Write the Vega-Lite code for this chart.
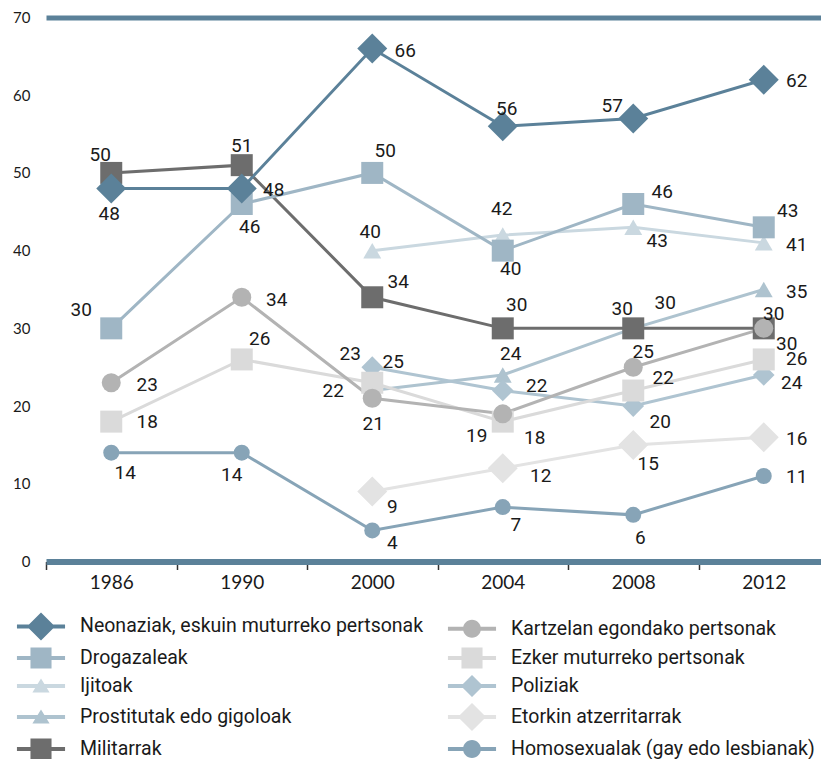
{
  "$schema": "https://vega.github.io/schema/vega-lite/v6.json",
  "width": 775,
  "height": 544,
  "autosize": {"type": "none"},
  "padding": {"left": 46, "top": 17.5, "right": 0, "bottom": 197.5},
  "background": "white",
  "config": {"view": {"stroke": null}, "font": "Roboto"},
  "data": {
    "values": [
      {"series": "Homosexualak (gay edo lesbianak)", "year": "1986", "value": 14},
      {"series": "Homosexualak (gay edo lesbianak)", "year": "1990", "value": 14},
      {"series": "Homosexualak (gay edo lesbianak)", "year": "2000", "value": 4},
      {"series": "Homosexualak (gay edo lesbianak)", "year": "2004", "value": 7},
      {"series": "Homosexualak (gay edo lesbianak)", "year": "2008", "value": 6},
      {"series": "Homosexualak (gay edo lesbianak)", "year": "2012", "value": 11},
      {"series": "Etorkin atzerritarrak", "year": "2000", "value": 9},
      {"series": "Etorkin atzerritarrak", "year": "2004", "value": 12},
      {"series": "Etorkin atzerritarrak", "year": "2008", "value": 15},
      {"series": "Etorkin atzerritarrak", "year": "2012", "value": 16},
      {"series": "Ijitoak", "year": "2000", "value": 40},
      {"series": "Ijitoak", "year": "2004", "value": 42},
      {"series": "Ijitoak", "year": "2008", "value": 43},
      {"series": "Ijitoak", "year": "2012", "value": 41},
      {"series": "Prostitutak edo gigoloak", "year": "2000", "value": 22},
      {"series": "Prostitutak edo gigoloak", "year": "2004", "value": 24},
      {"series": "Prostitutak edo gigoloak", "year": "2008", "value": 30},
      {"series": "Prostitutak edo gigoloak", "year": "2012", "value": 35},
      {"series": "Poliziak", "year": "2000", "value": 25},
      {"series": "Poliziak", "year": "2004", "value": 22},
      {"series": "Poliziak", "year": "2008", "value": 20},
      {"series": "Poliziak", "year": "2012", "value": 24},
      {"series": "Ezker muturreko pertsonak", "year": "1986", "value": 18},
      {"series": "Ezker muturreko pertsonak", "year": "1990", "value": 26},
      {"series": "Ezker muturreko pertsonak", "year": "2000", "value": 23},
      {"series": "Ezker muturreko pertsonak", "year": "2004", "value": 18},
      {"series": "Ezker muturreko pertsonak", "year": "2008", "value": 22},
      {"series": "Ezker muturreko pertsonak", "year": "2012", "value": 26},
      {"series": "Militarrak", "year": "1986", "value": 50},
      {"series": "Militarrak", "year": "1990", "value": 51},
      {"series": "Militarrak", "year": "2000", "value": 34},
      {"series": "Militarrak", "year": "2004", "value": 30},
      {"series": "Militarrak", "year": "2008", "value": 30},
      {"series": "Militarrak", "year": "2012", "value": 30},
      {"series": "Kartzelan egondako pertsonak", "year": "1986", "value": 23},
      {"series": "Kartzelan egondako pertsonak", "year": "1990", "value": 34},
      {"series": "Kartzelan egondako pertsonak", "year": "2000", "value": 21},
      {"series": "Kartzelan egondako pertsonak", "year": "2004", "value": 19},
      {"series": "Kartzelan egondako pertsonak", "year": "2008", "value": 25},
      {"series": "Kartzelan egondako pertsonak", "year": "2012", "value": 30},
      {"series": "Drogazaleak", "year": "1986", "value": 30},
      {"series": "Drogazaleak", "year": "1990", "value": 46},
      {"series": "Drogazaleak", "year": "2000", "value": 50},
      {"series": "Drogazaleak", "year": "2004", "value": 40},
      {"series": "Drogazaleak", "year": "2008", "value": 46},
      {"series": "Drogazaleak", "year": "2012", "value": 43},
      {"series": "Neonaziak, eskuin muturreko pertsonak", "year": "1986", "value": 48},
      {"series": "Neonaziak, eskuin muturreko pertsonak", "year": "1990", "value": 48},
      {"series": "Neonaziak, eskuin muturreko pertsonak", "year": "2000", "value": 66},
      {"series": "Neonaziak, eskuin muturreko pertsonak", "year": "2004", "value": 56},
      {"series": "Neonaziak, eskuin muturreko pertsonak", "year": "2008", "value": 57},
      {"series": "Neonaziak, eskuin muturreko pertsonak", "year": "2012", "value": 62}
    ]
  },
  "encoding": {
    "x": {
      "field": "year",
      "type": "ordinal",
      "scale": {"type": "band", "range": [0, 783], "paddingInner": 0, "paddingOuter": 0},
      "axis": {
        "title": null,
        "labelAngle": 0,
        "domainColor": "#5b8199",
        "domainWidth": 6,
        "tickBand": "extent",
        "tickColor": "#333333",
        "tickWidth": 1.5,
        "tickSize": 8,
        "labelPadding": 4,
        "labelFont": "Lato",
        "labelFontSize": 19,
        "labelColor": "#1a1a1a",
        "grid": false
      }
    },
    "y": {
      "field": "value",
      "type": "quantitative",
      "scale": {"domain": [0, 70], "nice": false},
      "axis": {
        "title": null,
        "values": [0, 10, 20, 30, 40, 50, 60, 70],
        "domain": false,
        "ticks": false,
        "labelPadding": 16,
        "labelFont": "Lato",
        "labelFontSize": 15,
        "labelColor": "#1a1a1a",
        "grid": true,
        "gridColor": "#5b8199",
        "gridWidth": {"condition": {"test": "datum.value == 70", "value": 5}, "value": 0}
      }
    },
    "color": {
      "field": "series",
      "type": "nominal",
      "scale": {
        "domain": ["Neonaziak, eskuin muturreko pertsonak", "Drogazaleak", "Ijitoak", "Prostitutak edo gigoloak", "Militarrak", "Kartzelan egondako pertsonak", "Ezker muturreko pertsonak", "Poliziak", "Etorkin atzerritarrak", "Homosexualak (gay edo lesbianak)"],
        "range": ["#5b8199", "#9fb6c5", "#cad8e0", "#aec3cf", "#6d6d6d", "#b3b3b3", "#dadada", "#afc4d1", "#e3e3e3", "#87a4b7"]
      },
      "legend": {
        "title": null,
        "orient": "none",
        "legendX": -18,
        "legendY": 595.5,
        "columns": 2,
        "padding": 0,
        "symbolSize": 676,
        "labelFont": "Roboto",
        "labelFontSize": 19.5,
        "labelColor": "#1a1a1a",
        "labelOffset": 26,
        "labelLimit": 600,
        "rowPadding": 4,
        "columnPadding": 23,
        "encode": {
          "symbols": {
            "update": {
              "shape": {"signal": "['M-1.85,-0.15H1.85V0.15H-1.85ZM0,-1.08L1.08,0L0,1.08L-1.08,0Z','M-1.85,-0.15H1.85V0.15H-1.85ZM-0.81,-0.81H0.81V0.81H-0.81Z','M-1.85,-0.15H1.85V0.15H-1.85ZM0,-0.58L0.66,0.5H-0.66Z','M-1.85,-0.15H1.85V0.15H-1.85ZM0,-0.58L0.66,0.5H-0.66Z','M-1.85,-0.15H1.85V0.15H-1.85ZM-0.81,-0.81H0.81V0.81H-0.81Z','M-1.85,-0.15H1.85V0.15H-1.85ZM-0.69,0A0.69,0.69,0,1,1,0.69,0A0.69,0.69,0,1,1,-0.69,0Z','M-1.85,-0.15H1.85V0.15H-1.85ZM-0.81,-0.81H0.81V0.81H-0.81Z','M-1.85,-0.15H1.85V0.15H-1.85ZM0,-0.85L0.85,0L0,0.85L-0.85,0Z','M-1.85,-0.15H1.85V0.15H-1.85ZM0,-1.08L1.08,0L0,1.08L-1.08,0Z','M-1.85,-0.15H1.85V0.15H-1.85ZM-0.69,0A0.69,0.69,0,1,1,0.69,0A0.69,0.69,0,1,1,-0.69,0Z'][indexof(['Neo','Dro','Iji','Pro','Mil','Kar','Ezk','Pol','Eto','Hom'], substring(datum.value,0,3))]"},
              "fill": {"scale": "color", "field": "value"},
              "stroke": {"value": "transparent"},
              "strokeWidth": {"value": 0},
              "size": {"value": 676},
              "opacity": {"value": 1}
            }
          }
        }
      }
    }
  },
  "layer": [
    {
      "mark": {"type": "line", "strokeWidth": 3},
      "encoding": {}
    },
    {
      "transform": [{"filter": "datum.series == 'Ijitoak' || datum.series == 'Prostitutak edo gigoloak'"}],
      "mark": {"type": "point", "filled": true, "opacity": 1, "shape": "triangle-up", "size": 320, "strokeWidth": 0},
      "encoding": {}
    },
    {
      "transform": [{"filter": "datum.series == 'Poliziak'"}],
      "mark": {"type": "point", "filled": true, "opacity": 1, "shape": "diamond", "size": 470, "strokeWidth": 0},
      "encoding": {}
    },
    {
      "transform": [{"filter": "datum.series == 'Drogazaleak' || datum.series == 'Ezker muturreko pertsonak' || datum.series == 'Militarrak'"}],
      "mark": {"type": "point", "filled": true, "opacity": 1, "shape": "square", "size": 484, "strokeWidth": 0},
      "encoding": {}
    },
    {
      "transform": [{"filter": "datum.series == 'Kartzelan egondako pertsonak'"}],
      "mark": {"type": "point", "filled": true, "opacity": 1, "shape": "circle", "size": 361, "strokeWidth": 0},
      "encoding": {}
    },
    {
      "transform": [{"filter": "datum.series == 'Homosexualak (gay edo lesbianak)'"}],
      "mark": {"type": "point", "filled": true, "opacity": 1, "shape": "circle", "size": 256, "strokeWidth": 0},
      "encoding": {}
    },
    {
      "transform": [{"filter": "datum.series == 'Neonaziak, eskuin muturreko pertsonak' || datum.series == 'Etorkin atzerritarrak'"}],
      "mark": {"type": "point", "filled": true, "opacity": 1, "shape": "diamond", "size": 900, "strokeWidth": 0},
      "encoding": {}
    },
    {
      "mark": {
        "type": "text",
        "font": "Roboto",
        "fontSize": 19,
        "color": "#1a1a1a",
        "align": "center",
        "baseline": "middle",
        "dx": {"expr": "[-2,32,33,4,-21,33,-30,8,13,8,29,24,-2,-1,24,33,-39,8,32,33,-11,0,26,14,-11,10,36,35,1,-26,10,23,36,18,-22,32,30,33,21,34,27,28,20,38,15,33,14,-10,20,13,7,33][indexof(['Neo1986','Neo1990','Neo2000','Neo2004','Neo2008','Neo2012','Dro1986','Dro1990','Dro2000','Dro2004','Dro2008','Dro2012','Iji2000','Iji2004','Iji2008','Iji2012','Pro2000','Pro2004','Pro2008','Pro2012','Mil1986','Mil1990','Mil2000','Mil2004','Mil2008','Mil2012','Kar1986','Kar1990','Kar2000','Kar2004','Kar2008','Kar2012','Ezk1986','Ezk1990','Ezk2000','Ezk2004','Ezk2008','Ezk2012','Pol2000','Pol2004','Pol2008','Pol2012','Eto2000','Eto2004','Eto2008','Eto2012','Hom1986','Hom1990','Hom2000','Hom2004','Hom2008','Hom2012'], substring(datum.series,0,3)+datum.year)]"},
        "dy": {"expr": "[26,2,2,-17,-13,1,-18,23,-22,18,-12,-16,-19,-26,14,2,0,-21,-25,2,-18,-19,-15,-23,-19,-14,2,3,26,22,-15,16,0,-20,-29,16,-13,0,-5,-5,16,8,15,8,19,2,20,22,13,18,23,1][indexof(['Neo1986','Neo1990','Neo2000','Neo2004','Neo2008','Neo2012','Dro1986','Dro1990','Dro2000','Dro2004','Dro2008','Dro2012','Iji2000','Iji2004','Iji2008','Iji2012','Pro2000','Pro2004','Pro2008','Pro2012','Mil1986','Mil1990','Mil2000','Mil2004','Mil2008','Mil2012','Kar1986','Kar1990','Kar2000','Kar2004','Kar2008','Kar2012','Ezk1986','Ezk1990','Ezk2000','Ezk2004','Ezk2008','Ezk2012','Pol2000','Pol2004','Pol2008','Pol2012','Eto2000','Eto2004','Eto2008','Eto2012','Hom1986','Hom1990','Hom2000','Hom2004','Hom2008','Hom2012'], substring(datum.series,0,3)+datum.year)]"}
      },
      "encoding": {
        "text": {"field": "value", "type": "quantitative"},
        "color": {"value": "#1a1a1a"}
      }
    }
  ]
}
